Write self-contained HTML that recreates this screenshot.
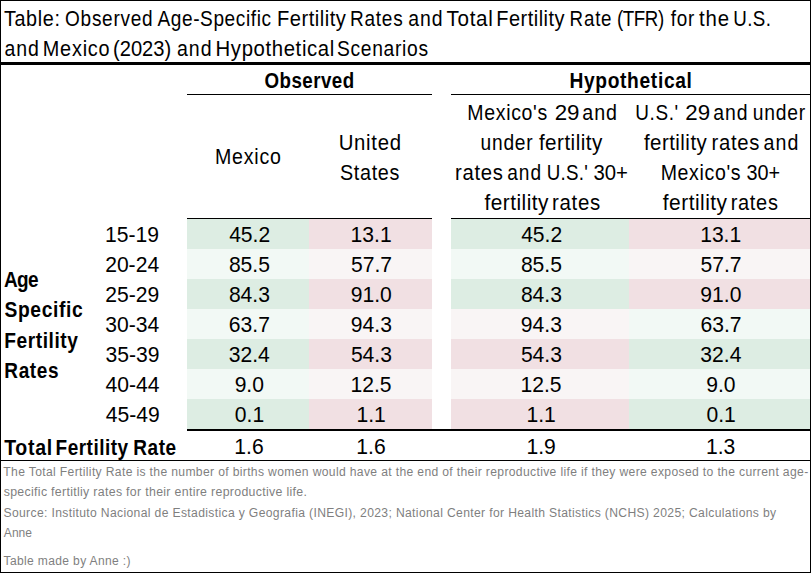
<!DOCTYPE html>
<html><head><meta charset="utf-8"><style>
html,body{margin:0;padding:0;background:#fff;overflow:hidden;}
svg{display:block;font-family:"Liberation Sans",sans-serif;}
</style></head><body>
<svg width="811" height="573" viewBox="0 0 811 573">
<rect x="187" y="219" width="122" height="30" fill="#DDEDE3"/>
<rect x="309" y="219" width="123" height="30" fill="#F1E0E3"/>
<rect x="451" y="219" width="178" height="30" fill="#DDEDE3"/>
<rect x="629" y="219" width="181" height="30" fill="#F1E0E3"/>
<rect x="187" y="249" width="122" height="30" fill="#F2F9F5"/>
<rect x="309" y="249" width="123" height="30" fill="#F9F5F5"/>
<rect x="451" y="249" width="178" height="30" fill="#F2F9F5"/>
<rect x="629" y="249" width="181" height="30" fill="#F9F5F5"/>
<rect x="187" y="279" width="122" height="30" fill="#DDEDE3"/>
<rect x="309" y="279" width="123" height="30" fill="#F1E0E3"/>
<rect x="451" y="279" width="178" height="30" fill="#DDEDE3"/>
<rect x="629" y="279" width="181" height="30" fill="#F1E0E3"/>
<rect x="187" y="309" width="122" height="30" fill="#F2F9F5"/>
<rect x="309" y="309" width="123" height="30" fill="#F9F5F5"/>
<rect x="451" y="309" width="178" height="30" fill="#F9F5F5"/>
<rect x="629" y="309" width="181" height="30" fill="#F2F9F5"/>
<rect x="187" y="339" width="122" height="30" fill="#DDEDE3"/>
<rect x="309" y="339" width="123" height="30" fill="#F1E0E3"/>
<rect x="451" y="339" width="178" height="30" fill="#F1E0E3"/>
<rect x="629" y="339" width="181" height="30" fill="#DDEDE3"/>
<rect x="187" y="369" width="122" height="30" fill="#F2F9F5"/>
<rect x="309" y="369" width="123" height="30" fill="#F9F5F5"/>
<rect x="451" y="369" width="178" height="30" fill="#F9F5F5"/>
<rect x="629" y="369" width="181" height="30" fill="#F2F9F5"/>
<rect x="187" y="399" width="122" height="30" fill="#DDEDE3"/>
<rect x="309" y="399" width="123" height="30" fill="#F1E0E3"/>
<rect x="451" y="399" width="178" height="30" fill="#F1E0E3"/>
<rect x="629" y="399" width="181" height="30" fill="#DDEDE3"/>
<rect x="0" y="0" width="811" height="1" fill="#000"/>
<rect x="0" y="572" width="811" height="1" fill="#000"/>
<rect x="0" y="0" width="1" height="573" fill="#000"/>
<rect x="810" y="0" width="1" height="573" fill="#000"/>
<rect x="0" y="62" width="811" height="3" fill="#000"/>
<rect x="187" y="94" width="245" height="1" fill="#000"/>
<rect x="451" y="94" width="360" height="1" fill="#000"/>
<rect x="187" y="218" width="245" height="1" fill="#000"/>
<rect x="451" y="218" width="360" height="1" fill="#000"/>
<rect x="187" y="429" width="624" height="2" fill="#000"/>
<rect x="0" y="460" width="811" height="1" fill="#000"/>
<text transform="translate(3.90 26) scale(0.9289 1)" font-size="21.3" font-weight="normal" letter-spacing="0.696" fill="#000">Table:</text>
<text transform="translate(65.04 26) scale(0.8932 1)" font-size="21.3" font-weight="normal" letter-spacing="0.821" fill="#000">Observed</text>
<text transform="translate(157.40 26) scale(0.8947 1)" font-size="21.3" font-weight="normal" letter-spacing="0.691" fill="#000">Age-Specific</text>
<text transform="translate(276.99 26) scale(0.9466 1)" font-size="21.3" font-weight="normal" letter-spacing="0.534" fill="#000">Fertility</text>
<text transform="translate(349.98 26) scale(0.8942 1)" font-size="21.3" font-weight="normal" letter-spacing="0.849" fill="#000">Rates</text>
<text transform="translate(408.22 26) scale(0.9123 1)" font-size="21.3" font-weight="normal" letter-spacing="1.065" fill="#000">and</text>
<text transform="translate(446.59 26) scale(0.9673 1)" font-size="21.3" font-weight="normal" letter-spacing="0.690" fill="#000">Total</text>
<text transform="translate(496.20 26) scale(0.9382 1)" font-size="21.3" font-weight="normal" letter-spacing="0.534" fill="#000">Fertility</text>
<text transform="translate(569.60 26) scale(0.8800 1)" font-size="21.3" font-weight="normal" letter-spacing="0.901" fill="#000">Rate</text>
<text transform="translate(617.08 26) scale(0.8800 1)" font-size="21.3" font-weight="normal" letter-spacing="-0.513" fill="#000">(TFR)</text>
<text transform="translate(670.81 26) scale(0.8873 1)" font-size="21.3" font-weight="normal" letter-spacing="0.778" fill="#000">for</text>
<text transform="translate(699.09 26) scale(0.9561 1)" font-size="21.3" font-weight="normal" letter-spacing="0.907" fill="#000">the</text>
<text transform="translate(733.19 26) scale(0.8800 1)" font-size="21.3" font-weight="normal" letter-spacing="0.530" fill="#000">U.S.</text>
<text transform="translate(4.42 55.6) scale(0.9151 1)" font-size="21.3" font-weight="normal" letter-spacing="1.065" fill="#000">and</text>
<text transform="translate(42.81 55.6) scale(0.9329 1)" font-size="21.3" font-weight="normal" letter-spacing="0.828" fill="#000">Mexico</text>
<text transform="translate(112.99 55.6) scale(0.9465 1)" font-size="21.3" font-weight="normal" fill="#000">(2023)</text>
<text transform="translate(177.02 55.6) scale(0.9179 1)" font-size="21.3" font-weight="normal" letter-spacing="1.065" fill="#000">and</text>
<text transform="translate(215.57 55.6) scale(0.9541 1)" font-size="21.3" font-weight="normal" letter-spacing="0.663" fill="#000">Hypothetical</text>
<text transform="translate(337.03 55.6) scale(0.9045 1)" font-size="21.3" font-weight="normal" letter-spacing="0.742" fill="#000">Scenarios</text>
<text transform="translate(264.45 87.6) scale(0.8800 1)" font-size="21.3" font-weight="bold" letter-spacing="0.538" fill="#000">Observed</text>
<text transform="translate(569.45 87.8) scale(0.9025 1)" font-size="21.3" font-weight="bold" letter-spacing="0.725" fill="#000">Hypothetical</text>
<text transform="translate(215.03 163.8) scale(0.9199 1)" font-size="21.3" font-weight="normal" letter-spacing="0.828" fill="#000">Mexico</text>
<text transform="translate(338.67 149.8) scale(0.9549 1)" font-size="21.3" font-weight="normal" letter-spacing="0.749" fill="#000">United</text>
<text transform="translate(339.91 179.7) scale(0.9275 1)" font-size="21.3" font-weight="normal" letter-spacing="0.749" fill="#000">States</text>
<text transform="translate(467.34 119.6) scale(0.9160 1)" font-size="21.3" font-weight="normal" letter-spacing="0.727" fill="#000">Mexico's</text>
<text transform="translate(554.68 119.6) scale(1.0488 1)" font-size="21.3" font-weight="normal" fill="#000">29</text>
<text transform="translate(582.21 119.6) scale(0.9236 1)" font-size="21.3" font-weight="normal" letter-spacing="1.065" fill="#000">and</text>
<text transform="translate(480.55 149.8) scale(0.9005 1)" font-size="21.3" font-weight="normal" letter-spacing="0.845" fill="#000">under</text>
<text transform="translate(538.89 149.8) scale(0.9703 1)" font-size="21.3" font-weight="normal" letter-spacing="0.489" fill="#000">fertility</text>
<text transform="translate(455.08 179.6) scale(0.9520 1)" font-size="21.3" font-weight="normal" letter-spacing="0.722" fill="#000">rates</text>
<text transform="translate(507.23 179.6) scale(0.8982 1)" font-size="21.3" font-weight="normal" letter-spacing="1.065" fill="#000">and</text>
<text transform="translate(546.69 179.6) scale(0.8800 1)" font-size="21.3" font-weight="normal" letter-spacing="0.351" fill="#000">U.S.'</text>
<text transform="translate(593.49 179.6) scale(0.9551 1)" font-size="21.3" font-weight="normal" fill="#000">30+</text>
<text transform="translate(484.49 210.3) scale(0.9779 1)" font-size="21.3" font-weight="normal" letter-spacing="0.489" fill="#000">fertility</text>
<text transform="translate(551.97 210.3) scale(0.9603 1)" font-size="21.3" font-weight="normal" letter-spacing="0.722" fill="#000">rates</text>
<text transform="translate(635.28 119.6) scale(0.8893 1)" font-size="21.3" font-weight="normal" letter-spacing="0.685" fill="#000">U.S.'</text>
<text transform="translate(685.28 119.6) scale(1.0488 1)" font-size="21.3" font-weight="normal" fill="#000">29</text>
<text transform="translate(713.22 119.6) scale(0.9123 1)" font-size="21.3" font-weight="normal" letter-spacing="1.065" fill="#000">and</text>
<text transform="translate(752.74 119.6) scale(0.9059 1)" font-size="21.3" font-weight="normal" letter-spacing="0.845" fill="#000">under</text>
<text transform="translate(643.90 149.8) scale(0.9611 1)" font-size="21.3" font-weight="normal" letter-spacing="0.489" fill="#000">fertility</text>
<text transform="translate(711.58 149.8) scale(0.9520 1)" font-size="21.3" font-weight="normal" letter-spacing="0.722" fill="#000">rates</text>
<text transform="translate(763.62 149.8) scale(0.9208 1)" font-size="21.3" font-weight="normal" letter-spacing="1.065" fill="#000">and</text>
<text transform="translate(660.64 179.6) scale(0.9172 1)" font-size="21.3" font-weight="normal" letter-spacing="0.727" fill="#000">Mexico's</text>
<text transform="translate(746.51 179.6) scale(0.9318 1)" font-size="21.3" font-weight="normal" fill="#000">30+</text>
<text transform="translate(662.79 210.3) scale(0.9825 1)" font-size="21.3" font-weight="normal" letter-spacing="0.489" fill="#000">fertility</text>
<text transform="translate(730.70 210.3) scale(0.9395 1)" font-size="21.3" font-weight="normal" letter-spacing="0.722" fill="#000">rates</text>
<text transform="translate(3.92 286.8) scale(0.8800 1)" font-size="21.6" font-weight="bold" letter-spacing="-0.703" fill="#000">Age</text>
<text transform="translate(4.42 316.8) scale(0.8913 1)" font-size="21.6" font-weight="bold" letter-spacing="0.745" fill="#000">Specific</text>
<text transform="translate(4.25 347.8) scale(0.8886 1)" font-size="21.6" font-weight="bold" letter-spacing="0.611" fill="#000">Fertility</text>
<text transform="translate(4.26 377.8) scale(0.8800 1)" font-size="21.6" font-weight="bold" letter-spacing="0.753" fill="#000">Rates</text>
<text transform="translate(4.20 454.8) scale(0.9048 1)" font-size="21.6" font-weight="bold" letter-spacing="0.771" fill="#000">Total</text>
<text transform="translate(55.56 454.8) scale(0.8800 1)" font-size="21.6" font-weight="bold" letter-spacing="0.569" fill="#000">Fertility</text>
<text transform="translate(133.36 454.8) scale(0.8800 1)" font-size="21.6" font-weight="bold" letter-spacing="0.579" fill="#000">Rate</text>
<text transform="translate(3.36 476) scale(0.8874 1)" font-size="13.7" font-weight="normal" letter-spacing="0.381" fill="#7f7f7f">The Total Fertility Rate is the number of births women would have at the end of their reproductive life if they were exposed to the current age-</text>
<text transform="translate(3.69 496.3) scale(0.9028 1)" font-size="13.7" font-weight="normal" letter-spacing="0.340" fill="#7f7f7f">specific fertitliy rates for their entire reproductive life.</text>
<text transform="translate(3.45 517.3) scale(0.8875 1)" font-size="13.7" font-weight="normal" letter-spacing="0.390" fill="#7f7f7f">Source: Instituto Nacional de Estadistica y Geografia (INEGI), 2023; National Center for Health Statistics (NCHS) 2025; Calculations by</text>
<text transform="translate(3.80 537) scale(0.8800 1)" font-size="13.7" font-weight="normal" letter-spacing="0.053" fill="#7f7f7f">Anne</text>
<text transform="translate(3.56 564.8) scale(0.8800 1)" font-size="13.7" font-weight="normal" letter-spacing="0.404" fill="#7f7f7f">Table made by Anne :)</text>
<text transform="translate(105.11 241.9) scale(0.977 1)" font-size="21.6" fill="#000">15-19</text>
<text transform="translate(229.14 241.9) scale(0.977 1)" font-size="21.6" fill="#000">45.2</text>
<text transform="translate(350.56 241.9) scale(0.977 1)" font-size="21.6" fill="#000">13.1</text>
<text transform="translate(521.14 241.9) scale(0.977 1)" font-size="21.6" fill="#000">45.2</text>
<text transform="translate(700.16 241.9) scale(0.977 1)" font-size="21.6" fill="#000">13.1</text>
<text transform="translate(105.16 271.9) scale(0.977 1)" font-size="21.6" fill="#000">20-24</text>
<text transform="translate(228.88 271.9) scale(0.977 1)" font-size="21.6" fill="#000">85.5</text>
<text transform="translate(350.93 271.9) scale(0.977 1)" font-size="21.6" fill="#000">57.7</text>
<text transform="translate(520.88 271.9) scale(0.977 1)" font-size="21.6" fill="#000">85.5</text>
<text transform="translate(700.53 271.9) scale(0.977 1)" font-size="21.6" fill="#000">57.7</text>
<text transform="translate(105.37 301.9) scale(0.977 1)" font-size="21.6" fill="#000">25-29</text>
<text transform="translate(228.88 301.9) scale(0.977 1)" font-size="21.6" fill="#000">84.3</text>
<text transform="translate(350.77 301.9) scale(0.977 1)" font-size="21.6" fill="#000">91.0</text>
<text transform="translate(520.88 301.9) scale(0.977 1)" font-size="21.6" fill="#000">84.3</text>
<text transform="translate(700.37 301.9) scale(0.977 1)" font-size="21.6" fill="#000">91.0</text>
<text transform="translate(105.32 331.9) scale(0.977 1)" font-size="21.6" fill="#000">30-34</text>
<text transform="translate(228.82 331.9) scale(0.977 1)" font-size="21.6" fill="#000">63.7</text>
<text transform="translate(350.82 331.9) scale(0.977 1)" font-size="21.6" fill="#000">94.3</text>
<text transform="translate(520.82 331.9) scale(0.977 1)" font-size="21.6" fill="#000">94.3</text>
<text transform="translate(700.42 331.9) scale(0.977 1)" font-size="21.6" fill="#000">63.7</text>
<text transform="translate(105.53 361.9) scale(0.977 1)" font-size="21.6" fill="#000">35-39</text>
<text transform="translate(228.77 361.9) scale(0.977 1)" font-size="21.6" fill="#000">32.4</text>
<text transform="translate(350.88 361.9) scale(0.977 1)" font-size="21.6" fill="#000">54.3</text>
<text transform="translate(520.88 361.9) scale(0.977 1)" font-size="21.6" fill="#000">54.3</text>
<text transform="translate(700.37 361.9) scale(0.977 1)" font-size="21.6" fill="#000">32.4</text>
<text transform="translate(105.48 391.9) scale(0.977 1)" font-size="21.6" fill="#000">40-44</text>
<text transform="translate(234.64 391.9) scale(0.977 1)" font-size="21.6" fill="#000">9.0</text>
<text transform="translate(350.51 391.9) scale(0.977 1)" font-size="21.6" fill="#000">12.5</text>
<text transform="translate(520.51 391.9) scale(0.977 1)" font-size="21.6" fill="#000">12.5</text>
<text transform="translate(706.24 391.9) scale(0.977 1)" font-size="21.6" fill="#000">9.0</text>
<text transform="translate(105.69 421.9) scale(0.977 1)" font-size="21.6" fill="#000">45-49</text>
<text transform="translate(234.85 421.9) scale(0.977 1)" font-size="21.6" fill="#000">0.1</text>
<text transform="translate(356.43 421.9) scale(0.977 1)" font-size="21.6" fill="#000">1.1</text>
<text transform="translate(526.43 421.9) scale(0.977 1)" font-size="21.6" fill="#000">1.1</text>
<text transform="translate(706.45 421.9) scale(0.977 1)" font-size="21.6" fill="#000">0.1</text>
<text transform="translate(234.37 453.9) scale(0.977 1)" font-size="21.6" fill="#000">1.6</text>
<text transform="translate(356.37 453.9) scale(0.977 1)" font-size="21.6" fill="#000">1.6</text>
<text transform="translate(526.43 453.9) scale(0.977 1)" font-size="21.6" fill="#000">1.9</text>
<text transform="translate(705.97 453.9) scale(0.977 1)" font-size="21.6" fill="#000">1.3</text>
</svg>
</body></html>
